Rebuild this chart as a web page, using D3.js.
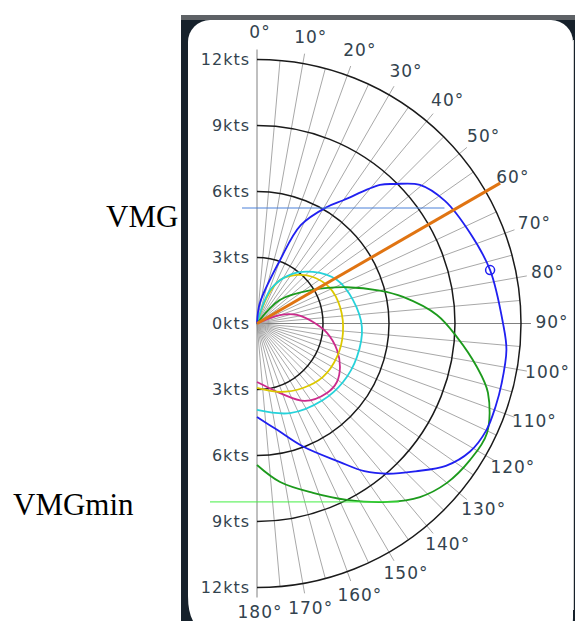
<!DOCTYPE html>
<meta charset="utf-8">
<style>
body { margin: 0; background: #fff; }
svg { display: block; }
.kts, .deg { font-family: "DejaVu Sans", sans-serif; font-size: 16px; fill: #33434e; letter-spacing: 1px; }
.deg { font-size: 17px; }
.vmgtext { font-family: "Liberation Serif", serif; font-size: 31px; fill: #000; }
</style>
<svg width="575" height="621"></svg>
<script src="https://d3js.org/d3.v7.min.js"></script>
<script>
// chart values, [angle in degrees, speed in kts]
var blue = [[0,0],[8,0.94],[20,3.07],[24,4.89],[31,6.18],[35,6.84],[41.6,8.42],[44.7,8.92],[49.6,9.72],[56.9,10.2],[67,10.52],[77.1,10.87],[89.9,11.18],[96,11.4],[104,11.45],[109,11.48],[115,11.5],[121,11.3],[127,10.75],[133,9.85],[139,9.05],[144,8.3],[149.1,7.34],[159.5,5.97],[169.3,4.92],[180,4.25]];
var green = [[0,0],[44,1.49],[59,2.98],[68,4.4],[75,5.78],[79.7,6.75],[87.3,8.19],[93.9,9.11],[101.2,10.19],[106.7,10.96],[115.5,11.58],[122.7,11.5],[130,11.27],[136.8,10.82],[143.9,10.04],[153,9.0],[161.7,8.11],[171.7,7.28],[180,6.43]];
var cyan = [[0,0],[22,1.7],[34,2.67],[47.4,3.46],[61.5,4.14],[76.2,4.49],[91.9,4.77],[108.5,4.79],[124.2,4.73],[139.2,4.59],[159.8,4.34],[180,3.93]];
var yellow = [[0,0],[20.7,1.29],[27.9,2.24],[39.5,2.86],[50.3,3.31],[64.1,3.69],[78.8,3.85],[96.3,3.93],[112.7,3.94],[129,3.86],[144.5,3.6],[161.4,3.28],[180,2.93]];
var magenta = [[0,0],[69.7,1.11],[78,1.86],[88.5,2.55],[97.7,3.21],[108.3,3.83],[117.7,4.26],[126.2,4.5],[134.8,4.48],[148.2,4.14],[161.7,3.33],[171,2.92],[180,2.66]];
var heading = [[60,0],[60,12.76]];
var marker = [77.1, 10.87];
var vmg = 5.25, vmgMin = 8.11;

var ktsRings = [3, 6, 9, 12];
var ktsLabels = ["12kts","9kts","6kts","3kts","0kts","3kts","6kts","9kts","12kts"];
var ktsValues = [12, 9, 6, 3, 0, -3, -6, -9, -12];
var degLabels = d3.range(0, 181, 10);
var spokes = d3.range(0, 181, 5);

var svg = d3.select("svg");
var cx = 257, cy = 323.5;
var r = d3.scaleLinear().domain([0, 12]).range([0, 264]);
var y = d3.scaleLinear().domain([0, 12]).range([cy, cy - 264]);
var rad = function(a) { return a * Math.PI / 180; };
var px = function(d) { return cx + r(d[1]) * Math.sin(rad(d[0])); };
var py = function(d) { return cy - r(d[1]) * Math.cos(rad(d[0])); };

// panel
svg.append("rect").attr("x", 181).attr("y", 15).attr("width", 394).attr("height", 606).attr("fill", "#16212b");
svg.append("rect").attr("x", 181).attr("y", 15).attr("width", 394).attr("height", 5).attr("fill", "#5e6266");
svg.append("rect").attr("x", 188).attr("y", 20).attr("width", 385).attr("height", 620).attr("rx", 22).attr("fill", "#fff");
svg.append("rect").attr("x", 188).attr("y", 596).attr("width", 30).attr("height", 30).attr("fill", "#fff");
svg.append("path").attr("d", "M188,596 L188,621 L193,621 Q188,612 188,596Z").attr("fill", "#16212b");
svg.append("line").attr("x1", 573.5).attr("x2", 573.5).attr("y1", 40).attr("y2", 610).attr("stroke", "#cfcfcf");

var g = svg.append("g").attr("transform", "translate(" + cx + "," + cy + ")");

// spokes
g.selectAll("line.spoke").data(spokes).enter().append("line")
  .attr("class", "spoke")
  .attr("x1", 0).attr("y1", 0)
  .attr("x2", function(a) { return (a % 10 ? r(12) : r(12) + 10) * Math.sin(rad(a)); })
  .attr("y2", function(a) { return -(a % 10 ? r(12) : r(12) + 10) * Math.cos(rad(a)); })
  .attr("stroke", function(a) { return (a === 0 || a === 90 || a === 180) ? "#808080" : "#a8a8a8"; })
  .attr("stroke-width", 1);

// rings
var arc = d3.arc().startAngle(0).endAngle(Math.PI);
g.selectAll("path.ring").data(ktsRings).enter().append("path")
  .attr("class", "ring")
  .attr("d", function(k) { return arc({innerRadius: r(k), outerRadius: r(k)}); })
  .attr("fill", "none").attr("stroke", "#1a1a1a").attr("stroke-width", 1.5);

// polar curves
var line = d3.lineRadial()
  .angle(function(d) { return rad(d[0]); })
  .radius(function(d) { return r(d[1]); })
  .curve(d3.curveCatmullRom);

var series = [
  {data: magenta, color: "#cc2a8c"},
  {data: yellow, color: "#dcc800"},
  {data: cyan, color: "#26d2da"},
  {data: green, color: "#1c9a1c"},
  {data: blue, color: "#2020f0"}
];
g.selectAll("path.polar").data(series).enter().append("path")
  .attr("class", "polar")
  .attr("d", function(s) { return line(s.data); })
  .attr("fill", "none").attr("stroke", function(s) { return s.color; }).attr("stroke-width", 1.8);

g.append("path").attr("d", d3.lineRadial().angle(function(d) { return rad(d[0]); }).radius(function(d) { return r(d[1]); })(heading))
  .attr("stroke", "#e07412").attr("stroke-width", 3).attr("fill", "none");

svg.append("circle").attr("cx", px(marker)).attr("cy", py(marker)).attr("r", 4.5)
  .attr("fill", "none").attr("stroke", "#2020f0").attr("stroke-width", 1.5);

// kts labels
svg.selectAll("text.kts").data(ktsValues).enter().append("text")
  .attr("class", "kts")
  .attr("x", 250).attr("y", function(k) { return y(k); })
  .attr("dy", "0.36em").attr("text-anchor", "end")
  .text(function(k, i) { return ktsLabels[i]; });

// degree labels
svg.selectAll("text.deg").data(degLabels).enter().append("text")
  .attr("class", "deg")
  .attr("x", function(a) { return cx + 3 + 292 * Math.sin(rad(a)); })
  .attr("y", function(a) { return cy - 1.5 - 290 * Math.cos(rad(a)); })
  .attr("dy", "0.36em").attr("text-anchor", "middle")
  .text(function(a) { return a + "°"; });

// VMG line: ends where it meets the blue curve on its descending side
function crossing(data, kts) {
  var yy = y(kts), pts = data.map(function(d) { return [px(d), py(d)]; });
  for (var i = pts.length - 1; i > 0; i--) {
    var a = pts[i - 1], b = pts[i];
    if (data[i][0] > 45 && (a[1] - yy) * (b[1] - yy) <= 0 && a[1] !== b[1]) {
      return a[0] + (b[0] - a[0]) * (yy - a[1]) / (b[1] - a[1]);
    }
  }
  return cx;
}
function lowest(data) {
  var best = data[0];
  data.forEach(function(d) { if (py(d) > py(best)) best = d; });
  return px(best);
}
var vx = 0;
for (var i = 1; i < blue.length; i++) if (blue[i][0] < 90) vx = i;
svg.append("line").attr("x1", 242).attr("x2", crossing(blue.slice(0, vx + 1), vmg) - 6)
  .attr("y1", y(vmg)).attr("y2", y(vmg)).attr("stroke", "#4a80d8").attr("stroke-width", 1);
svg.append("line").attr("x1", 210).attr("x2", lowest(green) + 12)
  .attr("y1", y(-vmgMin)).attr("y2", y(-vmgMin)).attr("stroke", "#44ee44").attr("stroke-width", 1);

svg.append("text").attr("class", "vmgtext").attr("x", 106).attr("y", 226.5).text("VMG");
svg.append("text").attr("class", "vmgtext").attr("x", 13).attr("y", 515).text("VMGmin");
</script>
